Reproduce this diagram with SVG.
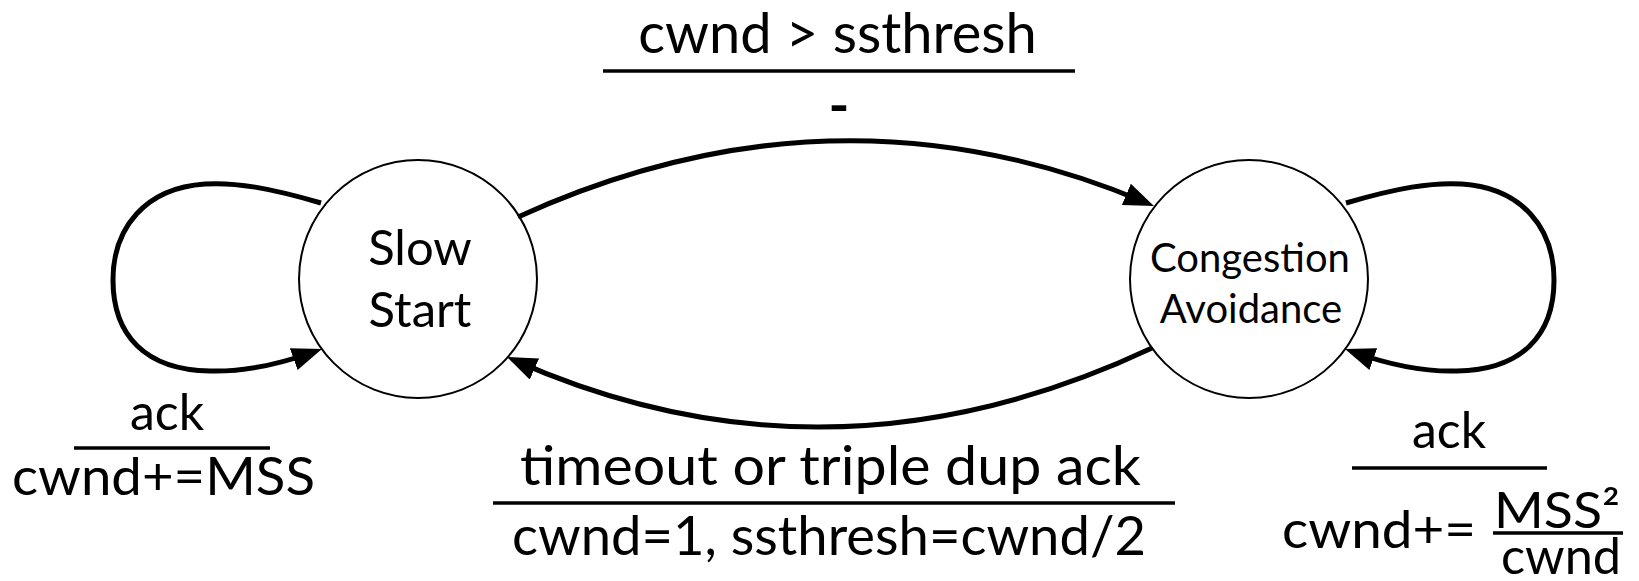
<svg xmlns="http://www.w3.org/2000/svg" width="1639" height="581" viewBox="0 0 1639 581">
<style>
.t{font-family:Lato,"Noto Sans",sans-serif;fill:#000;text-anchor:middle}
.node{fill:#fff;stroke:#000;stroke-width:2}
.edge{fill:none;stroke:#000;stroke-width:5;marker-end:url(#arr)}
.bar{stroke:#000;stroke-width:3.5}
</style>
<defs>
<marker id="arr" markerUnits="userSpaceOnUse" viewBox="0 0 30 23" markerWidth="30" markerHeight="23" refX="21" refY="11.5" orient="auto"><path d="M0,0 L30,11.5 L0,23 z" fill="#000"/></marker>
</defs>
<rect width="1639" height="581" fill="#fff"/>
<g id="slow-start">
<circle class="node" cx="418" cy="279" r="119"/>
<text class="t" x="420" y="265" font-size="49">Slow</text>
<text class="t" x="420" y="327" font-size="49">Start</text>
</g>
<g id="congestion-avoidance">
<circle class="node" cx="1249" cy="279" r="119"/>
<text class="t" x="1250" y="272" font-size="40">Congestion</text>
<text class="t" x="1251" y="323" font-size="40">Avoidance</text>
</g>
<g id="connectors">
<path class="edge" d="M518,217 Q836,72 1145.7,202.5"/>
<path class="edge" d="M1152,348 Q830,499.5 515.2,360.6"/>
<path class="edge" d="M321,203 C270,188 235,182 205,184 C145,188 113,228 113,280 C113,335 145,370 210,371 C245,372 280,364 313.5,352"/>
<path class="edge" d="M1346,203 C1397,188 1432,182 1462,184 C1522,188 1554,228 1554,280 C1554,335 1522,370 1457,371 C1422,372 1387,364 1353.5,352"/>
</g>
<g id="label-top">
<text class="t" x="837.5" y="53" font-size="56">cwnd &gt; ssthresh</text>
<line class="bar" x1="603" y1="71" x2="1075" y2="71"/>
<text class="t" x="839" y="125" font-size="56" font-weight="bold">-</text>
</g>
<g id="label-bottom">
<text class="t" x="830.5" y="485" font-size="54" textLength="621" lengthAdjust="spacingAndGlyphs">timeout or triple dup ack</text>
<line class="bar" x1="493" y1="503" x2="1175" y2="503"/>
<text class="t" x="829" y="555" font-size="54" textLength="634" lengthAdjust="spacingAndGlyphs">cwnd=1, ssthresh=cwnd/2</text>
</g>
<g id="label-left">
<text class="t" x="167" y="430" font-size="50">ack</text>
<line class="bar" x1="74" y1="448" x2="270" y2="448"/>
<text class="t" x="163.5" y="495" font-size="52" textLength="303" lengthAdjust="spacingAndGlyphs">cwnd+=MSS</text>
</g>
<g id="label-right">
<text class="t" x="1449" y="448" font-size="50">ack</text>
<line class="bar" x1="1352" y1="468" x2="1547" y2="468"/>
<text class="t" x="1379" y="548" font-size="52" textLength="194" lengthAdjust="spacingAndGlyphs">cwnd+=</text>
<text class="t" x="1557" y="528" font-size="50" textLength="126" lengthAdjust="spacingAndGlyphs">MSS²</text>
<line class="bar" x1="1493" y1="533" x2="1623" y2="533"/>
<text class="t" x="1561" y="574" font-size="51" textLength="120" lengthAdjust="spacingAndGlyphs">cwnd</text>
</g>
</svg>
